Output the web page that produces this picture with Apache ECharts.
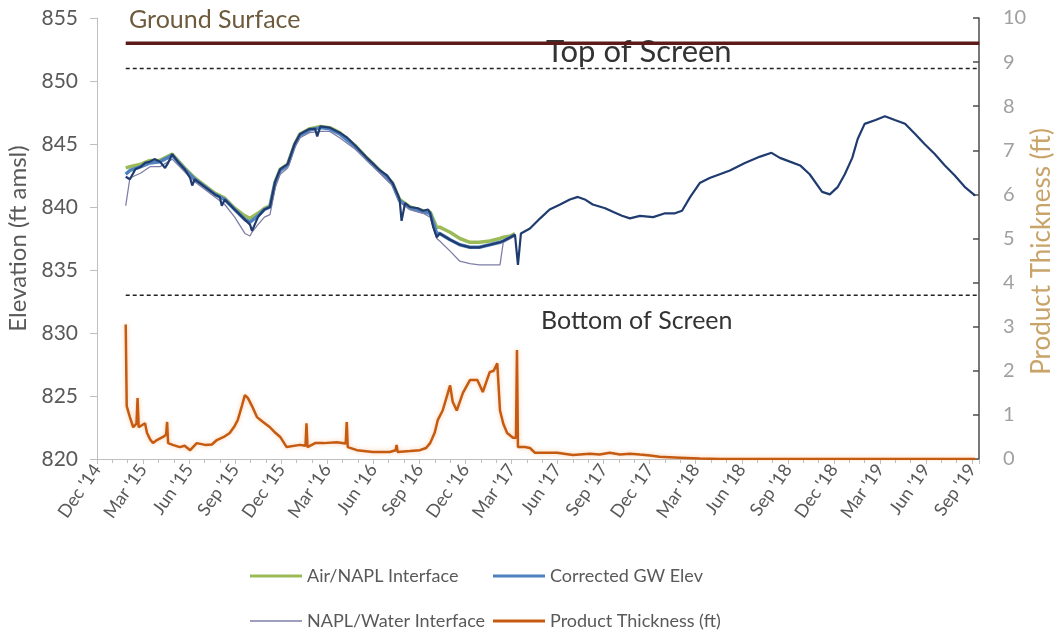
<!DOCTYPE html>
<html><head><meta charset="utf-8">
<script src="https://cdn.jsdelivr.net/npm/echarts@6/dist/echarts.min.js"></script>
<style>html,body{margin:0;padding:0;background:#fff}#c{width:1057px;height:638px}</style>
</head><body><div id="c"></div>
<script>
// Quarterly tick labels (every 3 months starting Dec 2014)
const xTickLabels = ["Dec '14","Mar '15","Jun '15","Sep '15","Dec '15","Mar '16","Jun '16","Sep '16","Dec '16","Mar '17","Jun '17","Sep '17","Dec '17","Mar '18","Jun '18","Sep '18","Dec '18","Mar '19","Jun '19","Sep '19"];
const leftTicks = [820, 825, 830, 835, 840, 845, 850, 855];
const rightTicks = [0,1,2,3,4,5,6,7,8,9,10];

// Reference elevations (ft amsl)
const refLineDates = ['2015-01-28', '2019-09-15'];
const groundSurface = [853, 853];
const topOfScreen = [851, 851];
const bottomOfScreen = [833, 833];

// Manual gauging (NAPL period)
const manualDates = ['2015-01-28','2015-02-05','2015-02-25','2015-03-15','2015-04-04','2015-04-28','2015-05-23','2015-06-12','2015-07-02','2015-07-22','2015-08-11','2015-08-31','2015-09-20','2015-09-30','2015-10-04','2015-10-16','2015-10-29','2015-11-09','2015-11-19','2015-11-29','2015-12-14','2015-12-28','2016-01-08','2016-01-27','2016-02-17','2016-03-06','2016-03-26','2016-04-25','2016-05-19','2016-06-14','2016-07-09','2016-07-23','2016-08-13','2016-09-08','2016-09-22','2016-10-05','2016-10-11','2016-11-01','2016-11-20','2016-12-10','2016-12-29','2017-01-19','2017-02-08','2017-02-14','2017-02-27','2017-03-08'];
const airNapl = [843.1,843.2,843.4,843.7,843.7,844.2,843.1,842.3,841.7,841.1,840.7,839.9,839.3,839.1,839.2,839.5,839.9,840.1,842.0,843.0,843.4,845.0,845.8,846.2,846.4,846.3,845.9,844.9,843.9,842.9,841.9,840.6,840.0,839.7,839.6,838.4,838.4,838.0,837.5,837.2,837.2,837.3,837.5,837.6,837.7,837.9];
const correctedGw = [842.6,842.9,843.2,843.5,843.6,844.1,843.0,842.2,841.6,841.0,840.6,839.8,839.0,838.8,838.9,839.3,839.8,840.0,841.9,842.9,843.3,844.9,845.7,846.1,846.3,846.2,845.8,844.8,843.8,842.8,841.8,840.5,839.9,839.6,839.5,837.9,837.9,837.4,837.0,836.8,836.8,837.0,837.2,837.3,837.6,837.8];
const naplWater = [840.1,842.3,842.7,843.2,843.2,843.8,842.8,842.0,841.4,840.8,840.2,839.2,837.9,837.7,838.0,838.6,839.2,839.4,841.5,842.6,843.1,844.7,845.5,845.9,846.0,846.0,845.5,844.6,843.7,842.7,841.7,840.4,839.8,839.5,839.2,837.5,837.3,836.5,835.7,835.5,835.4,835.4,835.4,837.2,837.5,837.7];

// Continuous groundwater elevation record
const gwDates = ['2015-01-28','2015-02-05','2015-02-15','2015-02-25','2015-03-05','2015-03-15','2015-03-24','2015-04-04','2015-04-14','2015-04-20','2015-04-28','2015-05-09','2015-05-23','2015-06-03','2015-06-07','2015-06-12','2015-07-02','2015-07-22','2015-08-01','2015-08-05','2015-08-11','2015-08-31','2015-09-20','2015-09-30','2015-10-04','2015-10-16','2015-10-29','2015-11-09','2015-11-19','2015-11-29','2015-12-14','2015-12-28','2016-01-08','2016-01-27','2016-02-07','2016-02-11','2016-02-17','2016-03-06','2016-03-26','2016-04-10','2016-04-25','2016-05-19','2016-06-04','2016-06-14','2016-06-28','2016-07-09','2016-07-19','2016-07-23','2016-07-27','2016-08-03','2016-08-13','2016-08-29','2016-09-08','2016-09-18','2016-09-22','2016-09-28','2016-10-05','2016-10-11','2016-11-01','2016-11-20','2016-12-10','2016-12-29','2017-01-19','2017-02-08','2017-02-14','2017-02-27','2017-03-08','2017-03-14','2017-03-20','2017-04-07','2017-04-27','2017-05-16','2017-06-06','2017-06-25','2017-07-11','2017-07-25','2017-08-10','2017-09-04','2017-09-20','2017-10-07','2017-10-23','2017-11-12','2017-12-08','2018-01-01','2018-01-21','2018-02-04','2018-02-19','2018-03-09','2018-03-29','2018-04-18','2018-05-08','2018-06-07','2018-07-07','2018-07-30','2018-08-16','2018-09-05','2018-09-25','2018-10-14','2018-11-08','2018-11-23','2018-12-09','2018-12-23','2019-01-07','2019-01-18','2019-02-01','2019-02-21','2019-03-11','2019-03-31','2019-04-20','2019-05-10','2019-05-29','2019-06-18','2019-07-08','2019-07-28','2019-08-17','2019-09-07'];
const gwElev = [842.4,842.2,843.0,843.2,843.5,843.6,843.8,843.6,843.1,843.5,844.2,843.6,843.0,842.3,841.7,842.2,841.6,841.0,840.8,840.1,840.6,839.8,839.0,838.6,838.1,839.2,839.8,840.0,842.0,843.0,843.4,845.0,845.8,846.2,846.2,845.6,846.4,846.3,845.9,845.5,844.9,843.9,843.3,842.9,842.5,841.9,841.0,840.6,838.9,840.3,840.0,839.9,839.7,839.8,839.5,838.4,837.6,837.9,837.4,837.0,836.8,836.8,837.0,837.2,837.3,837.6,837.8,835.4,837.9,838.3,839.1,839.8,840.2,840.6,840.8,840.6,840.2,839.9,839.6,839.3,839.1,839.3,839.2,839.5,839.5,839.7,840.8,841.9,842.3,842.6,842.9,843.5,844.0,844.3,843.9,843.6,843.3,842.6,841.2,841.0,841.6,842.6,843.9,845.4,846.6,846.9,847.2,846.9,846.6,845.8,845.0,844.2,843.3,842.5,841.6,840.9];

// Product thickness (ft)
const ptDates = ['2015-01-28','2015-01-30','2015-02-05','2015-02-11','2015-02-17','2015-02-19','2015-02-21','2015-03-05','2015-03-09','2015-03-15','2015-03-21','2015-03-29','2015-04-10','2015-04-16','2015-04-18','2015-04-20','2015-04-29','2015-05-13','2015-05-23','2015-06-03','2015-06-16','2015-07-02','2015-07-16','2015-07-26','2015-08-09','2015-08-21','2015-08-31','2015-09-06','2015-09-14','2015-09-20','2015-09-26','2015-10-04','2015-10-14','2015-10-25','2015-11-09','2015-11-19','2015-11-29','2015-12-12','2016-01-08','2016-01-19','2016-01-21','2016-01-23','2016-02-07','2016-02-23','2016-03-20','2016-04-07','2016-04-09','2016-04-11','2016-04-29','2016-05-31','2016-07-03','2016-07-15','2016-07-17','2016-07-19','2016-08-13','2016-09-02','2016-09-14','2016-09-22','2016-10-01','2016-10-07','2016-10-17','2016-11-01','2016-11-06','2016-11-14','2016-11-26','2016-12-10','2016-12-25','2017-01-05','2017-01-19','2017-01-27','2017-02-03','2017-02-08','2017-02-14','2017-02-21','2017-03-04','2017-03-10','2017-03-12','2017-03-14','2017-03-28','2017-04-07','2017-04-17','2017-04-27','2017-05-31','2017-07-01','2017-08-04','2017-08-24','2017-09-13','2017-10-03','2017-10-23','2017-11-12','2017-12-02','2017-12-21','2018-01-31','2018-03-09','2018-04-18','2018-09-25','2019-09-07'];
const productThickness = [3.05,1.2,0.95,0.72,0.8,1.38,0.72,0.81,0.59,0.45,0.36,0.43,0.5,0.55,0.84,0.36,0.32,0.27,0.3,0.2,0.36,0.32,0.33,0.43,0.5,0.59,0.75,0.88,1.2,1.45,1.38,1.2,0.95,0.85,0.72,0.6,0.5,0.27,0.32,0.3,0.81,0.27,0.36,0.36,0.38,0.35,0.84,0.27,0.2,0.16,0.16,0.2,0.32,0.16,0.18,0.2,0.25,0.36,0.6,0.88,1.1,1.67,1.3,1.1,1.5,1.79,1.79,1.52,1.97,2.0,2.17,1.1,0.8,0.59,0.48,0.48,2.47,0.27,0.27,0.25,0.14,0.14,0.14,0.09,0.12,0.1,0.14,0.1,0.12,0.1,0.08,0.05,0.03,0.01,0,0,0];

// month index since 1 Dec 2014
function mIdx(s){
  const p = s.split('-').map(Number);
  const dim = new Date(p[0], p[1], 0).getDate();
  return (p[0]-2014)*12 + (p[1]-1) - 11 + (p[2]-1)/dim;
}
const pair = (dates, vals) => dates.map((d,i) => [mIdx(d), vals[i]]);

const FONT = 'Lato';
const chart = echarts.init(document.getElementById('c'), null, {renderer:'canvas'});
const legendBase = {
  orient:'horizontal', itemWidth:52, icon:'rect', selectedMode:false,
  textStyle:{color:'#595959', fontSize:18, fontFamily:FONT}
};
chart.setOption({
  animation:false,
  backgroundColor:'#fff',
  grid:{left:97, right:78, top:18, bottom:179, containLabel:false, outerBoundsMode:'none'},
  xAxis:{
    type:'value', min:0, max:57.45, interval:3,
    axisLine:{show:true, onZero:false, lineStyle:{color:'#BFBFBF', width:1}},
    axisTick:{show:true, length:5, lineStyle:{color:'#BFBFBF'}},
    minorTick:{show:true, splitNumber:3, length:4, lineStyle:{color:'#BFBFBF'}},
    splitLine:{show:false},
    axisLabel:{
      rotate:55, color:'#595959', fontSize:18, fontFamily:FONT, margin:7,
      showMaxLabel:false,
      formatter: v => { const i = Math.round(v/3); return (Math.abs(v - i*3) < 1e-6 && xTickLabels[i]) ? xTickLabels[i] : ''; }
    }
  },
  yAxis:[{
    type:'value', min:leftTicks[0], max:leftTicks[leftTicks.length-1], interval:5,
    name:'Elevation (ft amsl)', nameLocation:'middle', nameRotate:90, nameGap:67,
    nameTextStyle:{color:'#595959', fontSize:24, fontFamily:FONT},
    axisLine:{show:true, lineStyle:{color:'#BFBFBF'}},
    axisTick:{show:true, length:7, lineStyle:{color:'#BFBFBF'}},
    splitLine:{show:false},
    axisLabel:{color:'#595959', fontSize:21, fontFamily:FONT, margin:19}
  },{
    type:'value', min:rightTicks[0], max:rightTicks[rightTicks.length-1], interval:1, position:'right',
    name:'Product Thickness (ft)', nameLocation:'middle', nameRotate:90, nameGap:50, nameMoveOverlap:false,
    nameTextStyle:{color:'#C9A46A', fontSize:26, fontFamily:FONT, padding:[0,26,0,0]},
    axisLine:{show:true, lineStyle:{color:'#4D4D4D', width:1.5}},
    axisTick:{show:true, inside:true, length:6, lineStyle:{color:'#4D4D4D', width:1.5}},
    splitLine:{show:false},
    axisLabel:{color:'#A0A0A0', fontSize:20, fontFamily:FONT, margin:24}
  }],
  legend:[
    Object.assign({}, legendBase, {left:245, top:562, itemHeight:3, data:['Air/NAPL Interface']}),
    Object.assign({}, legendBase, {left:488, top:562, itemHeight:3, data:['Corrected GW Elev']}),
    Object.assign({}, legendBase, {left:245, top:607, itemHeight:1.5, data:['NAPL/Water Interface']}),
    Object.assign({}, legendBase, {left:488, top:607, itemHeight:3, data:['Product Thickness (ft)']})
  ],
  graphic:[
    {type:'text', left:129, top:7, z:0, style:{text:'Ground Surface', fill:'#6E5A3C', font:'25px '+FONT}},
    {type:'text', left:546, top:36, z:0, style:{text:'Top of Screen', fill:'#333333', font:'31px '+FONT}},
    {type:'text', left:541, top:308, z:0, style:{text:'Bottom of Screen', fill:'#333333', font:'25px '+FONT}}
  ],
  series:[
    {name:'Ground Surface', type:'line', yAxisIndex:0, data:pair(refLineDates, groundSurface), showSymbol:false, silent:true,
     lineStyle:{color:'#5C1A1A', width:3.5}, z:3},
    {name:'Top of Screen', type:'line', yAxisIndex:0, data:pair(refLineDates, topOfScreen), showSymbol:false, silent:true,
     lineStyle:{color:'#222', width:1.5, type:[4,3]}},
    {name:'Bottom of Screen', type:'line', yAxisIndex:0, data:pair(refLineDates, bottomOfScreen), showSymbol:false, silent:true,
     lineStyle:{color:'#222', width:1.5, type:[4,3]}},
    {name:'Air/NAPL Interface', type:'line', yAxisIndex:0, data:pair(manualDates, airNapl), showSymbol:false,
     lineStyle:{color:'#9BBB59', width:3.5}, itemStyle:{color:'#9BBB59'}},
    {name:'Corrected GW Elev', type:'line', yAxisIndex:0, data:pair(manualDates, correctedGw), showSymbol:false,
     lineStyle:{color:'#4F81BD', width:3.5}, itemStyle:{color:'#4F81BD'}},
    {name:'NAPL/Water Interface', type:'line', yAxisIndex:0, data:pair(manualDates, naplWater), showSymbol:false,
     lineStyle:{color:'#7E7FA6', width:1.3}, itemStyle:{color:'#7E7FA6'}},
    {name:'GW Elevation', type:'line', yAxisIndex:0, data:pair(gwDates, gwElev), showSymbol:false,
     lineStyle:{color:'#1F3B70', width:2.2}, itemStyle:{color:'#1F3B70'}},
    {name:'Product Thickness (ft)', type:'line', yAxisIndex:1, data:pair(ptDates, productThickness), showSymbol:false,
     lineStyle:{color:'#C55A11', width:2.5, shadowColor:'rgba(247,170,110,0.6)', shadowBlur:4}, itemStyle:{color:'#C55A11'}, z:4}
  ]
});
</script>
</body></html>
